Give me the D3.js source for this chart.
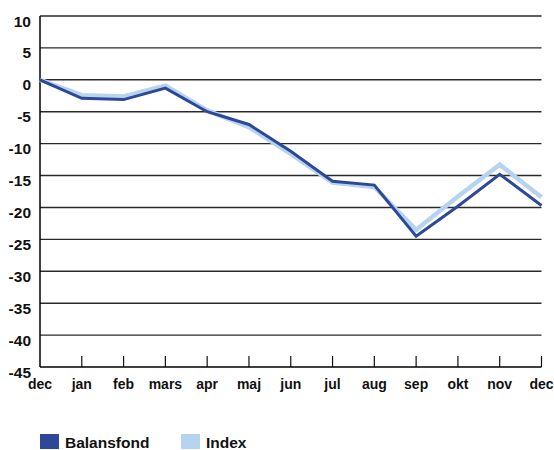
<!DOCTYPE html>
<html>
<head>
<meta charset="utf-8" />
<title>Balansfond</title>
<script src="https://cdn.jsdelivr.net/npm/d3@7"></script>
<style>
  body { margin: 0; background: #fff; }
  text { font-family: "Liberation Sans", Arial, sans-serif; font-weight: bold; fill: #111; }
</style>
</head>
<body>
<div id="chart"></div>
<script>
  // months along the x axis
  var months = ["dec", "jan", "feb", "mars", "apr", "maj", "jun", "jul", "aug", "sep", "okt", "nov", "dec"];
  var balansfond = [0, -2.9, -3.1, -1.3, -5.0, -7.0, -11.2, -15.9, -16.5, -24.5, -19.8, -14.8, -19.7];
  var index = [0, -2.4, -2.6, -0.9, -4.8, -7.4, -11.6, -16.1, -16.8, -23.5, -18.3, -13.3, -18.4];
  var yTicks = [10, 5, 0, -5, -10, -15, -20, -25, -30, -35, -40, -45];

  var w = 554, h = 450;
  var plotLeft = 40, plotRight = 541.5, plotTop = 16, plotBottom = 367;

  var svg = d3.select("#chart").append("svg")
    .attr("width", w)
    .attr("height", h);

  var x = d3.scalePoint()
    .domain(d3.range(months.length))
    .range([plotLeft, plotRight]);

  var y = d3.scaleLinear()
    .domain([-45, 10])
    .range([plotBottom, plotTop]);

  // gridlines
  svg.selectAll("line.grid")
    .data(yTicks.filter(function (d) { return d > -45; }))
    .enter()
    .append("line")
    .attr("class", "grid")
    .attr("x1", plotLeft)
    .attr("x2", plotRight)
    .attr("y1", function (d) { return y(d); })
    .attr("y2", function (d) { return y(d); })
    .attr("stroke", "#2a2a2a")
    .attr("stroke-width", 1.4);

  // y labels
  svg.selectAll("text.ylab")
    .data(yTicks)
    .enter()
    .append("text")
    .attr("class", "ylab")
    .attr("x", 31)
    .attr("y", function (d) { return y(d) + 10.5; })
    .attr("text-anchor", "end")
    .attr("font-size", "15.5px")
    .text(function (d) { return d; });

  // x ticks (pointing up from the bottom axis)
  svg.selectAll("line.xtick")
    .data(d3.range(1, months.length))
    .enter()
    .append("line")
    .attr("class", "xtick")
    .attr("x1", function (d) { return x(d); })
    .attr("x2", function (d) { return x(d); })
    .attr("y1", plotBottom)
    .attr("y2", plotBottom - 11)
    .attr("stroke", "#111")
    .attr("stroke-width", 1.2);

  // x labels
  svg.selectAll("text.xlab")
    .data(months)
    .enter()
    .append("text")
    .attr("class", "xlab")
    .attr("x", function (d, i) { return x(i); })
    .attr("y", 389)
    .attr("text-anchor", "middle")
    .attr("font-size", "14px")
    .text(function (d) { return d; });

  // axes
  svg.append("line")
    .attr("x1", plotLeft).attr("x2", plotLeft)
    .attr("y1", plotTop).attr("y2", plotBottom)
    .attr("stroke", "#000").attr("stroke-width", 1.5);
  svg.append("line")
    .attr("x1", plotLeft).attr("x2", plotRight)
    .attr("y1", plotBottom).attr("y2", plotBottom)
    .attr("stroke", "#000").attr("stroke-width", 1.5);

  var line = d3.line()
    .x(function (d, i) { return x(i); })
    .y(function (d) { return y(d); });

  svg.append("path")
    .datum(index)
    .attr("d", line)
    .attr("fill", "none")
    .attr("stroke", "#b6d3ef")
    .attr("stroke-width", 4.5);

  svg.append("path")
    .datum(balansfond)
    .attr("d", line)
    .attr("fill", "none")
    .attr("stroke", "#2d4899")
    .attr("stroke-width", 3);

  // legend
  var legend = [
    { name: "Balansfond", color: "#2d4899", x: 40 },
    { name: "Index", color: "#b6d3ef", x: 181 }
  ];
  var lg = svg.selectAll("g.legend")
    .data(legend)
    .enter()
    .append("g")
    .attr("class", "legend")
    .attr("transform", function (d) { return "translate(" + d.x + ",434)"; });
  lg.append("rect")
    .attr("width", 19)
    .attr("height", 15)
    .attr("fill", function (d) { return d.color; });
  lg.append("text")
    .attr("x", 25)
    .attr("y", 13.5)
    .attr("font-size", "15.5px")
    .text(function (d) { return d.name; });
</script>
</body>
</html>
